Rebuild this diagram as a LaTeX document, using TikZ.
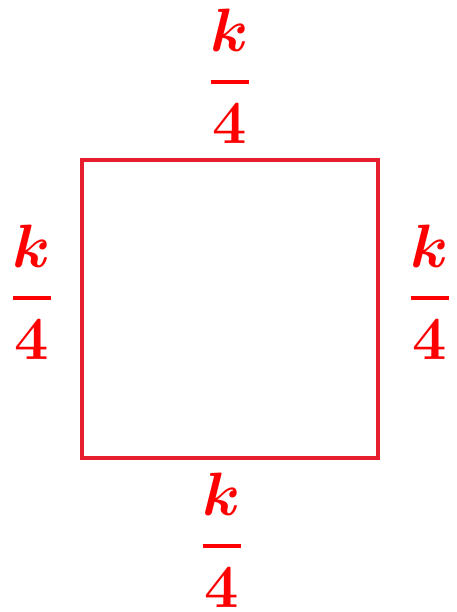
\documentclass[tikz,border=0pt]{standalone}
\usepackage{amsmath,amssymb}
\usepackage{tikz}
\usepackage{xcolor}
\definecolor{sqred}{RGB}{230,30,45}
\newcommand{\quarterk}{$\genfrac{}{}{1.6pt}{0}{k}{4}$}

\begin{document}
\begin{tikzpicture}[x=0.025cm,y=-0.025cm,
  lab/.style={text=red,inner sep=0pt,anchor=base,scale=1.75,font=\Huge\boldmath}]
  \useasboundingbox (0,0) rectangle (456,612);
  \draw[sqred,line width=2.8pt] (82,160) rectangle (378,458);
  % bar of each fraction sits about 15px above the base
  \node[lab] (top) at (230,97) {\quarterk};
  \node[lab] (left) at (32,313) {\quarterk};
  \node[lab] (right) at (430,313) {\quarterk};
  \node[lab] (bottom) at (222,561) {\quarterk};
\end{tikzpicture}
\end{document}
